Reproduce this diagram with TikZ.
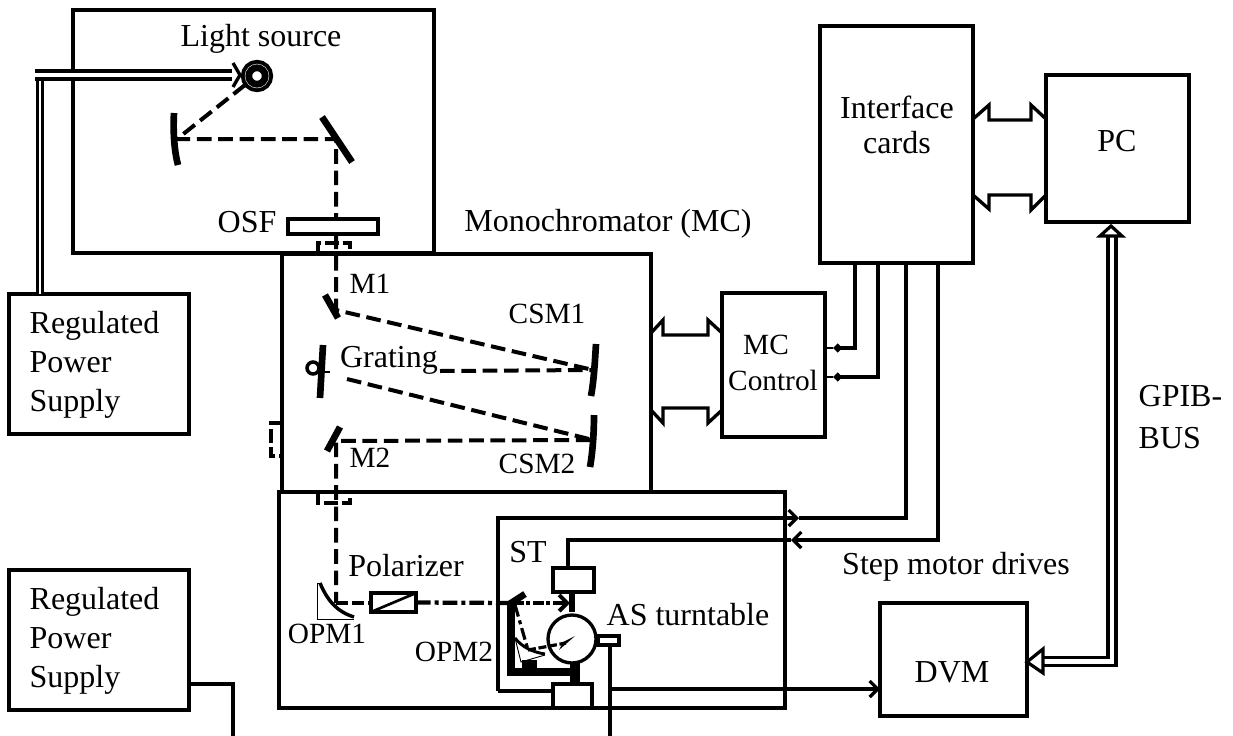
\documentclass[tikz,border=0pt]{standalone}
\usepackage{fontspec}
\setmainfont{Liberation Serif}
\usetikzlibrary{arrows.meta,calc}
\tikzset{
  box/.style 2 args={draw,inner sep=0pt,outer sep=0pt,minimum width=#1*0.75pt,minimum height=#2*0.75pt},
  whitebox/.style 2 args={box={#1}{#2},fill=white},
  lbl/.style={inner sep=0pt,font=\fontsize{24}{28}\selectfont},
  slbl/.style={inner sep=0pt,font=\fontsize{22}{28}\selectfont},
  beam/.style={line width=3pt,dash pattern=on 11pt off 5pt},
  ray/.style={line width=3.2pt,dash pattern=on 11pt off 3pt on 3pt off 3pt},
  plug/.style={line width=2.8pt,dash pattern=on 10pt off 3pt},
  mirror/.style={line width=5pt},
  bus/.style={double,line width=2.4pt,double distance=3.6pt},
  thinbus/.style={double,line width=1.8pt,double distance=1.8pt},
}
\begin{document}
\begin{tikzpicture}[x=0.75pt,y=-0.75pt,line width=2.5pt,>={Straight Barb[length=6pt,width=12pt]}]
  \useasboundingbox (0,0) rectangle (1233,736);

  % 光路
  \coordinate (lampfoot) at (245,85);
  \coordinate (cmirror) at (177,139);
  \coordinate (fmirror) at (336,139);
  \coordinate (mone) at (336,310);
  \coordinate (csmone) at (593,370);
  \coordinate (grate) at (440,371);
  \coordinate (gratetwo) at (347,379);
  \coordinate (csmtwo) at (593,440);
  \coordinate (mtwo) at (336,441);
  \coordinate (opmone) at (336,603);
  \coordinate (opmtwo) at (513,603);
  \coordinate (opmfoc) at (528,650);
  \draw[beam] (lampfoot)--(cmirror)--(fmirror)--(mone)--(csmone);
  \draw[beam] (grate)--(csmone);
  \draw[beam] (gratetwo)--(csmtwo)--(mtwo)--(opmone);
  \draw[line width=3.6pt,dash pattern=on 9pt off 3pt] (opmone)--(371,603);

  % 机箱
  \node[box={361}{243}] (lightbox) at (253.5,131.5) {};
  \node[box={369}{238}] (mono) at (466.5,373) {};
  \node[box={506}{216}] (sample) at (532,600) {};
  \node[box={153}{237}] (iface) at (896.5,144.5) {};
  \node[box={143}{147}] (pc) at (1117.5,148.5) {};
  \node[box={103}{144}] (mcctl) at (773.5,365) {};
  \node[box={147}{113}] (dvm) at (953.5,659.5) {};
  \node[box={180}{140}] (psone) at (99,364) {};
  \node[box={180}{140}] (pstwo) at (99,640) {};

  % 元件
  \node[whitebox={90}{15}] (osf) at (333,226.5) {};
  \node[whitebox={45}{19}] (polar) at (393.5,602.5) {};
  \draw[line width=2pt] (polar.south west)--(polar.north east);
  \node[whitebox={41}{24}] (stepup) at (573.5,580) {};
  \node[whitebox={39}{24}] (stepdn) at (572.5,696) {};

  % 反射镜
  \draw[mirror] (322,117)--(352,162);
  \draw[mirror] (174,113) .. controls (173,130) and (174,150) .. (178,165);
  \draw[mirror] (325,295)--(338,318);
  \draw[mirror] (323,345)--(320,398);
  \draw[mirror] (596,344) .. controls (595,360) and (594,380) .. (591,396);
  \draw[mirror] (594,415) .. controls (594,430) and (593,450) .. (590,467);
  \draw[mirror] (340,427)--(327,451);
  \draw[line width=2.6pt] (313,368) circle (6);
  \draw[line width=2pt] (319,372)--(330,372);

  % 转台
  \draw[line width=5pt] (stepup.south -| 572,0)--(572,612);
  \draw[line width=7pt] (stepdn.north -| 575,0)--(575,662);
  \draw[line width=6pt] (575,672)--(511,672)--(511,603);
  \draw[mirror] (508,605)--(525,594);
  \fill (522,660) rectangle (537,668);
  \draw[ray] (polar.east)--(opmtwo);
  \draw[line width=3pt,dash pattern=on 8pt off 2pt on 3pt off 2pt,->] (opmtwo)--(570,603);
  \draw[line width=2.4pt,dash pattern=on 9pt off 3pt on 3pt off 3pt] (515,605)--(opmfoc);
  \node[whitebox={48}{48},circle] (table) at (572,639) {};
  \fill (575,636)--(559,650)--(563,642)--cycle;
  \draw[line width=2.4pt,dash pattern=on 6pt off 2pt] (opmfoc)--(566,643);
  \node[whitebox={21}{9}] (detect) at (608.5,640.5) {};

  % 抛物镜
  \draw[line width=0.7pt] (320,583)--(317,583)--(317,619)--(354,619);
  \draw[line width=2.6pt] (320,583) .. controls (328,602) and (338,612) .. (354,617);
  \draw[line width=0.7pt] (515,638)--(521,662)--(545,655);
  \draw[line width=2.2pt] (515,638) .. controls (522,647) and (532,652) .. (545,654);

  % 接口
  \foreach \x/\y/\h in {318/253/-10,318/492/11}{
    \draw[plug] (\x,\y)--(\x,\y+\h)--(\x+32,\y+\h)--(\x+32,\y);
  }
  \draw[plug] (mono.west |- 0,423)--(271,423)--(271,456)--(mono.west |- 0,456);

  % 总线
  \foreach \t/\u/\s in {335/333/-1,408/410/1}{
    \draw (mono.east |- 0,\u)--++(12,\s*13)--(663,\t)--(708,\t)--(708,\t+\s*15)--(mcctl.west |- 0,\u);
  }
  \foreach \t/\u/\s in {120/119/-1,195/195/1}{
    \draw (iface.east |- 0,\u)--++(16,\s*14)--(989,\t)--(1031,\t)--(1031,\t+\s*15)--(pc.west |- 0,\u);
  }

  % 控制线
  \draw[line width=3pt,-{Diamond[length=7pt,width=7pt]}] (855,263)--(855,348)--(833,348);
  \draw[line width=2.2pt] (833,348)--(mcctl.east |- 0,348);
  \draw[line width=2.6pt,-{Diamond[length=7pt,width=7pt]}] (878,263)--(878,377)--(833,377);
  \draw[line width=2.2pt] (833,377)--(mcctl.east |- 0,377);
  \draw[->] (498,691)--(498,518)--(799,518);
  \draw (799,518)--(906,518)--(906,263);
  \draw (498,691)--(stepdn.west |- 0,691);
  \draw[->] (938,263)--(938,540)--(791,540);
  \draw (791,540)--(568,540)--(stepup.north -| 568,0);
  \draw[->] (610,689)--(dvm.west |- 0,689);
  \draw (detect.south -| 610,0)--(610,736);
  \draw (pstwo.east |- 0,684)--(233,684)--(233,736);

  % 灯
  \node[circle,draw,line width=8.4pt,inner sep=0pt,outer sep=0pt,minimum size=21*0.75pt] (lamp) at (257,76) {};
  \draw[white,line width=0.3pt] (lamp.center) circle (12);
  \coordinate (lamptip) at (240,75);
  \draw[thinbus] (40,294)--(40,71);
  \draw[bus] (35,75)--(232,75);
  \draw (233,63)--(lamptip)--(233,87);

  % GPIB
  \draw[bus] (1112,236)--(1112,661.5)--(1043,661.5);
  \draw[fill=white,line width=2.4pt] (dvm.east |- 0,662)--++(16,-13)--++(0,24)--cycle;
  \draw[fill=white,line width=2.4pt] (pc.south -| 1111,0)++(0,4)--++(11,10)--++(-22,0)--cycle;

  % 文字
  \node[lbl] (tlight) at (261,39) {Light source};
  \node[lbl] (tosf) at (247,222) {OSF};
  \node[lbl] (tmono) at (608,224) {Monochromator (MC)};
  \node[slbl] (tmone) at (370,284) {M1};
  \node[slbl] (tcsmone) at (547,314) {CSM1};
  \node[lbl] (tgrate) at (389,360) {Grating};
  \node[slbl] (tmtwo) at (370,458) {M2};
  \node[slbl] (tcsmtwo) at (537,464) {CSM2};
  \node[lbl] (tpolar) at (406,566) {Polarizer};
  \node[lbl] (tst) at (528,552) {ST};
  \node[slbl] (topmone) at (327,634) {OPM1};
  \node[slbl] (topmtwo) at (454,652) {OPM2};
  \node[lbl] (ttable) at (688,615) {AS turntable};
  \node[lbl] (tstep) at (956,567) {Step motor drives};
  \node[slbl] (tmc) at (766,345) {MC};
  \node[slbl] (tctl) at (773,380) {Control};
  \node[lbl,align=center] (tiface) at (897,125) {Interface\\[-1.5pt]cards};
  \node[lbl] (tpc) at (1117,141) {PC};
  \node[lbl] (tdvm) at (952,672) {DVM};
  \node[lbl,align=left,anchor=west] (tgpib) at (1137,417) {GPIB-\\[3pt]BUS};
  \node[lbl,align=left,anchor=west] (tpsone) at (28,365) {Regulated\\[1pt]Power\\[1pt]Supply};
  \node[lbl,align=left,anchor=west] (tpstwo) at (28,641) {Regulated\\[1pt]Power\\[1pt]Supply};
\end{tikzpicture}
\end{document}
